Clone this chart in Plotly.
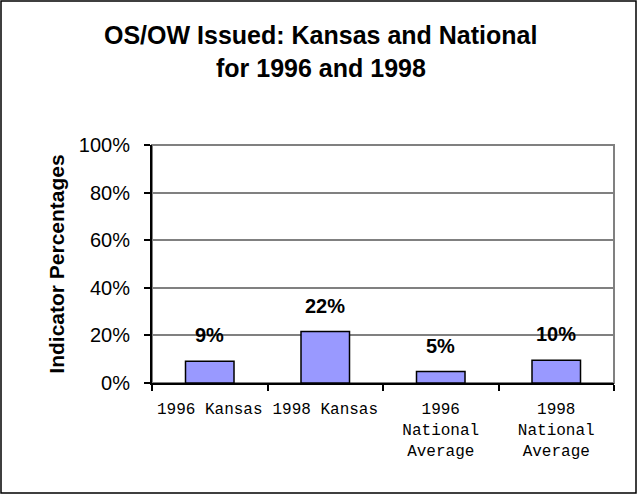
import plotly.graph_objects as go

title_lines = ["OS/OW Issued: Kansas and National", "for 1996 and 1998"]
categories = ["1996 Kansas", "1998 Kansas", "1996<br>National<br>Average", "1998<br>National<br>Average"]
values = [0.091, 0.216, 0.048, 0.096]
y_ticks = [0, 0.2, 0.4, 0.6, 0.8, 1.0]
y_tick_labels = ["0%", "20%", "40%", "60%", "80%", "100%"]

W, H = 639, 495
ml, mr, mt, mb = 152, 25, 145, 112
pw, ph = W - ml - mr, H - mt - mb

fig = go.Figure()
fig.add_trace(go.Bar(
    x=categories, y=values, width=0.42,
    marker=dict(color="#9999FF", line=dict(color="black", width=1.5)),
    hoverinfo="skip",
))

for c, v in zip(categories, values):
    fig.add_annotation(x=c, y=v, text="<b>%s</b>" % f"{v:.0%}",
                       showarrow=False, yanchor="middle", yshift=26,
                       font=dict(family="Liberation Sans, Arial", size=20, color="black"))

# title, two centred lines
for line, ypix in zip(title_lines, [35, 68]):
    fig.add_annotation(xref="paper", yref="paper",
                       x=(W / 2 + 1 - ml) / pw, y=1 + (mt - ypix) / ph,
                       xanchor="center", yanchor="middle", showarrow=False,
                       text="<b>%s</b>" % line,
                       font=dict(family="Liberation Sans, Arial", size=25, color="black"))

# outer frame
fig.add_shape(type="rect", xref="paper", yref="paper",
              x0=(1 - ml) / pw, x1=(W - 3 - ml) / pw,
              y0=-(mb - 2) / ph, y1=1 + (mt - 1) / ph,
              line=dict(color="black", width=1.5), fillcolor="rgba(0,0,0,0)")
# plot area border
fig.add_shape(type="rect", xref="paper", yref="paper", x0=0, x1=1, y0=0, y1=1,
              line=dict(color="#808080", width=2), fillcolor="rgba(0,0,0,0)", layer="below")

fig.update_layout(
    width=W, height=H,
    margin=dict(l=ml, r=mr, t=mt, b=mb),
    paper_bgcolor="white", plot_bgcolor="white",
    showlegend=False,
    xaxis=dict(showline=True, linecolor="black", linewidth=2, ticks="outside",
               tickson="boundaries", ticklen=6, tickcolor="black", tickwidth=1.5,
               ticklabelstandoff=10,
               tickfont=dict(family="Liberation Mono, Courier New", size=16, color="black"),
               showgrid=False),
    yaxis=dict(range=[0, 1.0], tickvals=y_ticks, ticktext=y_tick_labels,
               showline=True, linecolor="black", linewidth=2, ticks="outside",
               ticklen=6, tickcolor="black", tickwidth=1.5, ticklabelstandoff=10,
               tickfont=dict(family="Liberation Sans, Arial", size=20, color="black"),
               showgrid=True, gridcolor="#808080", gridwidth=2, zeroline=False,
               title=dict(text="<b>Indicator Percentages</b>", standoff=8,
                          font=dict(family="Liberation Sans, Arial", size=21, color="black"))),
)

fig.write_html("out.html", config={"displayModeBar": False},
               post_script="document.body.style.margin='0';")
